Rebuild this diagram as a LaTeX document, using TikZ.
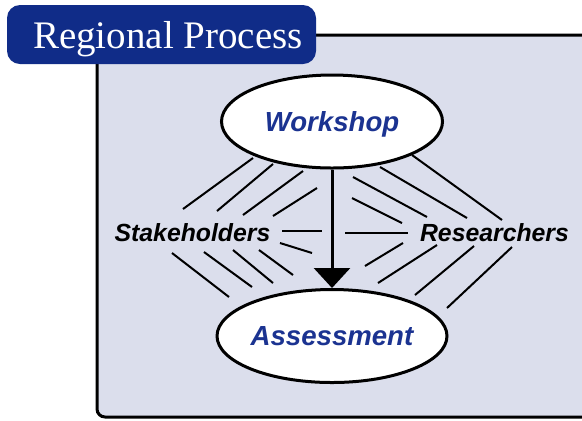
\documentclass[tikz,border=0pt]{standalone}
\usepackage{fontspec}
\usepackage{tikz}
\usetikzlibrary{arrows.meta,positioning,shapes.geometric}
\newfontfamily\diagsans{Liberation Sans}
\newfontfamily\tabserif{Liberation Serif}
\definecolor{Navy}{HTML}{102C88}
\definecolor{InkBlue}{HTML}{1B3391}
\definecolor{Lavender}{HTML}{DBDEEC}

\tikzset{
  procnode/.style={ellipse,draw=black,line width=1.5pt,fill=white,
    minimum width=110.5pt,minimum height=46.5pt,inner sep=0pt,text depth=0pt,
    text=InkBlue,font=\diagsans\bfseries\itshape\fontsize{13.8}{16}\selectfont},
  actor/.style={inner sep=0pt,anchor=base,
    font=\diagsans\bfseries\itshape\fontsize{12.4}{15}\selectfont},
  hatch/.style={line width=1pt},
}

\begin{document}
\begin{tikzpicture}[x=0.5pt,y=-0.5pt]
  \useasboundingbox (0,0) rectangle (582,420);
  % panel and title tab
  \draw[line width=1.5pt,fill=Lavender,rounded corners=4pt] (97,35) rectangle (640,417);
  \node[fill=Navy,rounded corners=6.5pt,minimum width=154.5pt,minimum height=29.5pt,inner sep=0pt] (tab) at (161.5,34.5) {};
  \node[text=white,font=\tabserif\fontsize{19.5}{22}\selectfont,inner sep=0pt,text depth=0pt] (title) at ([xshift=3.25pt]tab.center) {Regional Process};

  % process
  \node[procnode] (workshop) at (332,121.5) {Workshop};
  \node[procnode] (assess) at (332,336) {Assessment};
  \draw[line width=1.5pt,-{Triangle[length=10pt,width=18pt]}] (workshop) -- (assess);

  % participants
  \node[actor] (stake) at (192.5,241) {Stakeholders};
  \node[actor] (research) at (494.5,241) {Researchers};

  % hatching
  \foreach \xa/\ya/\xb/\yb in {253/158/183/209, 273/164/217/211, 303/171/243/215, 317/188/273/216,
      282/231/322/231, 280/243/312/253,
      172/253/229/297, 204/252/252/287, 233/250/273/283, 259/250/293/275,
      412/155/502/220, 380/167/467/218, 353/177/427/217, 352/198/402/223,
      345/233/408/233,
      403/243/365/266, 437/245/378/283, 474/246/415/295, 512/247/447/308}
    \draw[hatch] (\xa,\ya) -- (\xb,\yb);
\end{tikzpicture}
\end{document}
